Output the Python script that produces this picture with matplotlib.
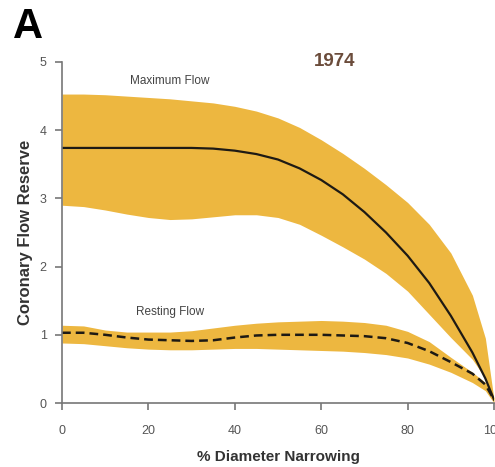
import matplotlib
matplotlib.use("Agg")
from matplotlib import pyplot as plt

plt.rcParams['font.family'] = ['Liberation Sans', 'DejaVu Sans']

# % diameter narrowing
narrowing = [0, 5, 10, 15, 20, 25, 30, 35, 40, 45, 50, 55, 60, 65, 70, 75, 80, 85, 90, 95, 98, 100]

# maximum flow: mean and band
max_mean = [3.74, 3.74, 3.74, 3.74, 3.74, 3.74, 3.74, 3.73, 3.70, 3.65, 3.57, 3.44,
            3.27, 3.06, 2.80, 2.50, 2.16, 1.76, 1.28, 0.74, 0.36, 0.05]
max_upper = [4.53, 4.53, 4.52, 4.50, 4.48, 4.46, 4.43, 4.40, 4.35, 4.28, 4.18, 4.04,
             3.86, 3.66, 3.44, 3.20, 2.94, 2.62, 2.20, 1.58, 0.95, 0.05]
max_lower = [2.90, 2.88, 2.83, 2.77, 2.72, 2.69, 2.70, 2.73, 2.76, 2.76, 2.72, 2.62,
             2.46, 2.29, 2.11, 1.90, 1.64, 1.30, 0.96, 0.64, 0.36, 0.05]

# resting flow: mean and band
rest_mean = [1.03, 1.03, 1.00, 0.96, 0.93, 0.92, 0.91, 0.92, 0.96, 0.99, 1.00, 1.00,
             1.00, 0.99, 0.98, 0.95, 0.88, 0.76, 0.60, 0.43, 0.27, 0.05]
rest_upper = [1.14, 1.13, 1.07, 1.04, 1.04, 1.04, 1.06, 1.10, 1.14, 1.17, 1.19, 1.20,
              1.21, 1.20, 1.18, 1.14, 1.05, 0.90, 0.67, 0.45, 0.30, 0.08]
rest_lower = [0.88, 0.87, 0.84, 0.81, 0.79, 0.78, 0.78, 0.79, 0.80, 0.80, 0.79, 0.78,
              0.77, 0.76, 0.74, 0.71, 0.66, 0.57, 0.45, 0.30, 0.18, 0.00]

x_ticks = [0, 20, 40, 60, 80, 100]
y_ticks = [0, 1, 2, 3, 4, 5]

band = '#EDB740'
ink = '#1e1a14'
grey = '#777777'

fig = plt.figure(figsize=(4.95, 4.67), dpi=100)
ax = fig.add_axes([62 / 495, 1 - 403 / 467, 432 / 495, 341 / 467])

ax.fill_between(narrowing, max_lower, max_upper, color=band, lw=0)
ax.fill_between(narrowing, rest_lower, rest_upper, color=band, lw=0)
ax.plot(narrowing, max_mean, color=ink, lw=1.6)
ax.plot(narrowing, rest_mean, color=ink, lw=1.8, dashes=(3.5, 2))

ax.set_xlim(0, 100)
ax.set_ylim(0, 5)
ax.set_xticks(x_ticks)
ax.set_yticks(y_ticks)
for side in ['top', 'right']:
    ax.spines[side].set_visible(False)
for side in ['left', 'bottom']:
    ax.spines[side].set_color(grey)
    ax.spines[side].set_linewidth(1.2)
ax.tick_params(colors=grey, labelcolor='#555555', labelsize=9, length=5, width=1.2)
ax.tick_params(axis='x', pad=11)
ax.tick_params(axis='y', pad=6)

ax.set_xlabel('% Diameter Narrowing', fontsize=11, fontweight='bold', color='#333333', labelpad=9)
ax.set_ylabel('Coronary Flow Reserve', fontsize=12, fontweight='bold', color='#333333', labelpad=5)

ax.text(25, 4.72, 'Maximum Flow', fontsize=8.5, color='#444444', ha='center', va='center')
ax.text(25, 1.33, 'Resting Flow', fontsize=8.5, color='#444444', ha='center', va='center')
ax.text(63, 5.0, '1974', fontsize=13.5, fontweight='bold', color='#6b4c3b', ha='center', va='center')
fig.text(13 / 495, 1 - 27 / 467, 'A', fontsize=30, fontweight='bold', color='black', ha='left', va='center')

fig.savefig('out.png', dpi=100)
